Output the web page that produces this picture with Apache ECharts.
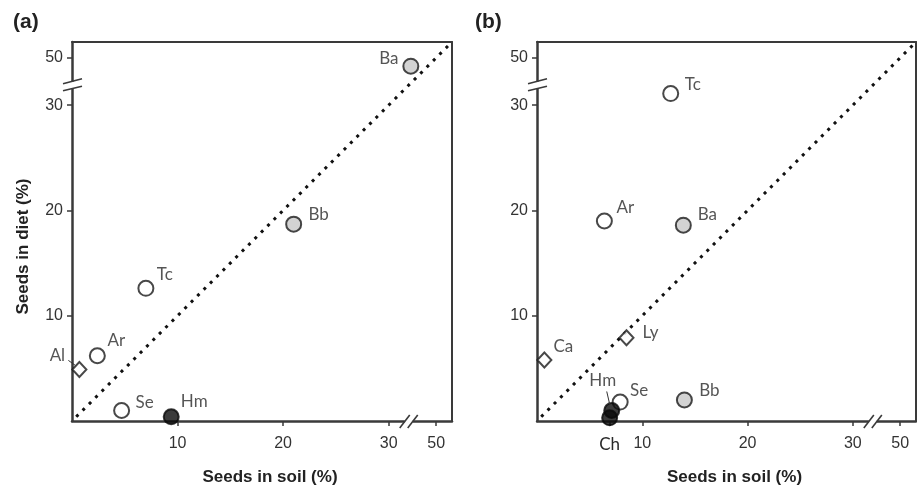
<!DOCTYPE html>
<html><head><meta charset="utf-8">
<script src="https://cdn.jsdelivr.net/npm/echarts@6/dist/echarts.min.js"></script>
<style>html,body{margin:0;padding:0;background:#fff}#c{width:917px;height:487px}</style>
</head><body><div id="c"></div><script>
// ---------- data: panel (a) ----------
const namesA = ['Ba','Bb','Tc','Ar','Al','Se','Hm'];
const soilA  = [47.6, 21.0, 7.0, 2.4, 0.7, 4.7, 9.4];
const dietA  = [49.2, 18.7, 12.6, 6.2, 4.9, 1.0, 0.4];
const kindA  = ['gray','gray','open','open','diamond','open','black'];
// ---------- data: panel (b) ----------
const namesB = ['Tc','Ar','Ba','Ly','Ca','Se','Bb','Ch','Hm'];
const soilB  = [12.7, 6.4, 13.9, 8.5, 0.7, 7.9, 14.0, 6.9, 7.1];
const dietB  = [31.1, 19.0, 18.6, 7.9, 5.8, 1.8, 2.0, 0.3, 1.0];
const kindB  = ['open','open','gray','diamond','diamond','open','gray','black','black'];
// ---------- axis ----------
const tickLabels = [10, 20, 30, 50];
const oneToOne = [0.4, 51.5];     // 1:1 reference line (start, end)
const chTick = 6.9;               // soil value of Ch shown on panel (b) x axis

// broken-axis transform (values above the break are shifted down)
const SHIFT = 15.5, BRK = 31.9, AXMAX = 36;
const disp = v => v > 40 ? v - SHIFT : v;
const undisp = v => v > 33 ? v + SHIFT : v;

// ---------- styling / layout ----------
const AX = '#3a3a3a', TXT = '#333', LAB = '#2a2a2a';
const kindStyle = {
  open:   {symbol:'circle', size:15, itemStyle:{color:'#fff', borderColor:'#1a1a1a', borderWidth:2}},
  gray:   {symbol:'circle', size:15, itemStyle:{color:'#c8c8c8', borderColor:'#1a1a1a', borderWidth:2}},
  black:  {symbol:'circle', size:15, itemStyle:{color:'#0a0a0a', borderColor:'#0a0a0a', borderWidth:2}},
  diamond:{symbol:'diamond', size:[14,15], itemStyle:{color:'#fff', borderColor:'#1a1a1a', borderWidth:2}}
};
const labOffA = {Ba:[-22,-8], Bb:[25,-10], Tc:[19,-14], Ar:[19,-15], Al:[-22,-14], Se:[23,-8], Hm:[23,-15]};
const labOffB = {Tc:[22,-9], Ar:[21,-13], Ba:[24,-11], Ly:[24,-5], Ca:[19,-13], Se:[19,-12], Bb:[25,-9], Hm:[-9,-30]};
const leaders = [
  {grid:0, names:namesA, soil:soilA, diet:dietA, name:'Al', from:[-11,-9], to:[-4,-4]},
  {grid:1, names:namesB, soil:soilB, diet:dietB, name:'Hm', from:[-5,-19], to:[-2,-6]}
];

function makeData(names, soil, diet, kind, offs){
  return names.map((n,i)=>{
    const ks = kindStyle[kind[i]];
    const off = offs[n];
    return {
      name:n, value:[disp(soil[i]), disp(diet[i])],
      symbol:ks.symbol, symbolSize:ks.size, itemStyle:ks.itemStyle,
      label: off ? {show:true, position:'inside', offset:off, formatter:n,
        color:LAB, fontSize:17, fontFamily:'Lato', align:'center', verticalAlign:'middle'} : {show:false}
    };
  });
}

function xAxisBottom(gi, extraTicks){
  const vals = tickLabels.map(disp).concat(extraTicks);
  return {
    type:'value', gridIndex:gi, position:'bottom', min:0, max:AXMAX,
    axisLine:{show:true, onZero:false, lineStyle:{color:AX, width:2.5}},
    axisTick:{show:true, customValues:vals, length:5, lineStyle:{color:AX, width:1.5}},
    axisLabel:{show:true, customValues:vals, margin:15, fontSize:16, color:TXT, fontFamily:'Liberation Sans',
      formatter: v => extraTicks.some(e=>Math.abs(e-v)<1e-6) ? '{ch|Ch}' : String(Math.round(undisp(v))),
      rich:{ch:{fontFamily:'Lato', fontSize:17, color:LAB}}},
    splitLine:{show:false},
    name:'Seeds in soil (%)', nameLocation:'middle', nameGap:48,
    nameTextStyle:{fontSize:17, fontWeight:'bold', color:'#222', fontFamily:'Liberation Sans', padding:[0,0,0,16]}
  };
}
function yAxisLeft(gi, withName){
  const vals = tickLabels.map(disp);
  const a = {
    type:'value', gridIndex:gi, position:'left', min:0, max:AXMAX,
    axisLine:{show:true, onZero:false, lineStyle:{color:AX, width:2.5}},
    axisTick:{show:true, customValues:vals, length:5, lineStyle:{color:AX, width:1.5}},
    axisLabel:{show:true, customValues:vals, margin:9, fontSize:16, color:TXT, fontFamily:'Liberation Sans',
      formatter: v => String(Math.round(undisp(v)))},
    splitLine:{show:false}
  };
  if (withName){
    a.name = 'Seeds in diet (%)'; a.nameLocation='middle'; a.nameGap=40;
    a.nameTextStyle = {fontSize:17, fontWeight:'bold', color:'#222', fontFamily:'Liberation Sans', padding:[0,30,0,0]};
  }
  return a;
}
function frameX(gi){ return {type:'value', gridIndex:gi, position:'top', min:0, max:AXMAX,
  axisLine:{show:true, onZero:false, lineStyle:{color:AX, width:2}}, axisTick:{show:false}, axisLabel:{show:false}, splitLine:{show:false}}; }
function frameY(gi){ return {type:'value', gridIndex:gi, position:'right', min:0, max:AXMAX,
  axisLine:{show:true, onZero:false, lineStyle:{color:AX, width:2}}, axisTick:{show:false}, axisLabel:{show:false}, splitLine:{show:false}}; }

const chart = echarts.init(document.getElementById('c'), null, {renderer:'canvas'});
const diagLine = oneToOne.map(v => [disp(v), disp(v)]);
const option = {
  animation:false,
  backgroundColor:'#fff',
  title:[
    {text:'(a)', left:8, top:7, textStyle:{fontSize:21, fontWeight:'bold', color:'#222', fontFamily:'Liberation Sans'}},
    {text:'(b)', left:470, top:7, textStyle:{fontSize:21, fontWeight:'bold', color:'#222', fontFamily:'Liberation Sans'}}
  ],
  grid:[
    {left:72, top:42, width:380, height:379, containLabel:false, outerBoundsMode:'none'},
    {left:537, top:42, width:379, height:379, containLabel:false, outerBoundsMode:'none'}
  ],
  xAxis:[xAxisBottom(0, []), xAxisBottom(1, [chTick]), frameX(0), frameX(1)],
  yAxis:[yAxisLeft(0, true), yAxisLeft(1, false), frameY(0), frameY(1)],
  series:[
    {type:'line', xAxisIndex:0, yAxisIndex:0, data:diagLine, symbol:'none', silent:true,
      lineStyle:{color:'#111', width:3, type:[3,6]}, z:1},
    {type:'line', xAxisIndex:1, yAxisIndex:1, data:diagLine, symbol:'none', silent:true,
      lineStyle:{color:'#111', width:3, type:[3,6]}, z:1},
    {type:'scatter', xAxisIndex:0, yAxisIndex:0, data:makeData(namesA, soilA, dietA, kindA, labOffA), z:3},
    {type:'scatter', xAxisIndex:1, yAxisIndex:1, data:makeData(namesB, soilB, dietB, kindB, labOffB), z:3}
  ]
};
chart.setOption(option);

// axis-break marks and leader lines, positioned through the axes
const g = [];
const ls = {stroke:AX, lineWidth:1.6};
[0,1].forEach(gi=>{
  const yb = chart.convertToPixel({gridIndex:gi}, [0, BRK]);
  const ax = yb[0], yc = yb[1];
  g.push({type:'rect', z:100, shape:{x:ax-3, y:yc-3.5, width:6, height:6.5}, style:{fill:'#fff'}});
  g.push({type:'line', z:101, shape:{x1:ax-9, y1:yc-1.5, x2:ax+10, y2:yc-6.5}, style:ls});
  g.push({type:'line', z:101, shape:{x1:ax-9, y1:yc+5.5, x2:ax+10, y2:yc+1}, style:ls});
  const xb = chart.convertToPixel({gridIndex:gi}, [BRK, 0]);
  const xc = xb[0], ay = xb[1];
  g.push({type:'rect', z:100, shape:{x:xc-4, y:ay-3, width:8, height:6}, style:{fill:'#fff'}});
  g.push({type:'line', z:101, shape:{x1:xc-9, y1:ay+7, x2:xc+1, y2:ay-6}, style:ls});
  g.push({type:'line', z:101, shape:{x1:xc-1, y1:ay+7, x2:xc+9, y2:ay-6}, style:ls});
});
leaders.forEach(L=>{
  const i = L.names.indexOf(L.name);
  const p = chart.convertToPixel({gridIndex:L.grid}, [disp(L.soil[i]), disp(L.diet[i])]);
  g.push({type:'line', z:101, shape:{x1:p[0]+L.from[0], y1:p[1]+L.from[1], x2:p[0]+L.to[0], y2:p[1]+L.to[1]},
    style:{stroke:'#333', lineWidth:1}});
});
chart.setOption({graphic:{elements:g}});
</script></body></html>
